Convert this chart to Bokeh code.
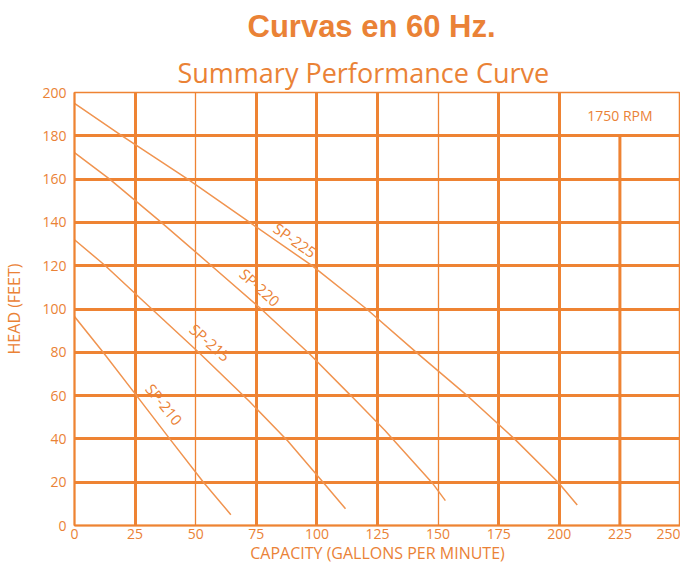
from bokeh.plotting import figure
from bokeh.models import Grid, FixedTicker, Title, Range1d, ColumnDataSource
from bokeh.core.properties import value
from bokeh.embed import file_html
from bokeh.resources import INLINE

# ---- data ----
x_ticks = [0, 25, 50, 75, 100, 125, 150, 175, 200, 225, 250]
y_ticks = [0, 20, 40, 60, 80, 100, 120, 140, 160, 180, 200]
thick_x = [25, 75, 100, 125, 175, 200]
thin_x = [50, 150]
thick_y = [20, 40, 60, 80, 100, 120, 140, 160, 180]
rpm_col = [225]
rpm_row = [180]

sp225_q = [0, 19.6, 46.7, 72.9, 98, 120.5, 141.5, 162.5, 181.5, 199.5, 207.4]
sp225_h = [195, 180, 160, 139.5, 120, 100, 79.5, 59.5, 40, 20, 9.5]
sp220_q = [0, 14.5, 35.8, 56.5, 77, 97, 114, 128, 147.5, 153]
sp220_h = [172.2, 160, 140, 120, 100, 79.2, 60, 44, 19.8, 11.5]
sp215_q = [0, 12.5, 29, 51.4, 72, 88, 101.4, 111.8]
sp215_h = [132, 120.2, 103, 79.8, 57.5, 39, 21.5, 7.7]
sp210_q = [0, 11.8, 25.6, 39.3, 53.2, 64.5]
sp210_h = [96.5, 80, 60, 40, 20, 5]

curve_names = ["SP-225", "SP-220", "SP-215", "SP-210"]
label_q = [91.0, 76.5, 56.0, 37.0]
label_h = [131.8, 110.0, 84.6, 56.0]
label_angle = [-35, -42, -41, -51]

ORANGE = "#EE8333"
CURVE = "#F09450"
TEXT = "#EA8236"
FONT = "Open Sans"

p = figure(width=680, height=566, output_backend="svg", toolbar_location=None,
           x_range=Range1d(0, 250), y_range=Range1d(0, 200),
           min_border_left=66, min_border_right=0, min_border_bottom=35,
           min_border_top=86)

p.background_fill_color = "white"
p.border_fill_color = "white"
p.outline_line_color = ORANGE
p.outline_line_width = 1.5
p.outline_line_alpha = 1

# titles
sub = Title(text="Summary Performance Curve", align="left", text_color=TEXT,
            text_font=FONT, text_font_size="27px", text_font_style="normal",
            standoff=4, offset=103)
p.add_layout(sub, "above")
main = Title(text="Curvas en 60 Hz.", align="left", text_color=TEXT,
             text_font="Liberation Sans", text_font_size="31px",
             text_font_style="bold", standoff=12, offset=173)
p.add_layout(main, "above")

# axes
for ax in (p.xaxis[0], p.yaxis[0]):
    ax.major_tick_line_color = None
    ax.minor_tick_line_color = None
    ax.major_tick_out = 0
    ax.major_tick_in = 0
    ax.minor_tick_out = 0
    ax.minor_tick_in = 0
    ax.axis_line_color = ORANGE
    ax.axis_line_width = 2
    ax.major_label_text_color = TEXT
    ax.major_label_text_font = FONT
    ax.major_label_text_font_size = "14px"
    ax.axis_label_text_color = TEXT
    ax.axis_label_text_font = FONT
    ax.axis_label_text_font_size = "16px"
    ax.axis_label_text_font_style = "normal"
p.xaxis[0].ticker = FixedTicker(ticks=x_ticks)
p.yaxis[0].ticker = FixedTicker(ticks=y_ticks)
p.yaxis[0].axis_label = "HEAD (FEET)"
p.xaxis[0].axis_label = "CAPACITY (GALLONS PER MINUTE)"
p.xaxis[0].major_label_standoff = 3
p.xaxis[0].axis_label_standoff = 0
p.yaxis[0].major_label_standoff = 8
p.yaxis[0].axis_label_standoff = 14

# grids
p.xgrid.ticker = FixedTicker(ticks=thick_x)
p.xgrid.grid_line_color = ORANGE
p.xgrid.grid_line_width = 3
p.ygrid.ticker = FixedTicker(ticks=thick_y)
p.ygrid.grid_line_color = ORANGE
p.ygrid.grid_line_width = 3
thin = Grid(dimension=0, ticker=FixedTicker(ticks=thin_x),
            grid_line_color=ORANGE, grid_line_width=1.3)
p.add_layout(thin)
p.segment(x0=rpm_col, y0=[0], x1=rpm_col, y1=rpm_row, line_color=ORANGE, line_width=3)

# curves
for q, h in ((sp225_q, sp225_h), (sp220_q, sp220_h), (sp215_q, sp215_h), (sp210_q, sp210_h)):
    p.line(q, h, line_color=CURVE, line_width=1.5)

src = ColumnDataSource(dict(x=label_q, y=label_h, t=curve_names, a=label_angle))
p.text(x="x", y="y", text="t", angle="a", angle_units="deg", source=src,
       text_color=TEXT, text_font=value(FONT), text_font_size="15px",
       text_align="center", text_baseline="middle")

p.text(x=[225], y=[189.6], text=["1750 RPM"], text_color=TEXT,
       text_font=value(FONT), text_font_size="14px",
       text_align="center", text_baseline="middle")

open("out.html", "w").write(file_html(p, INLINE))
